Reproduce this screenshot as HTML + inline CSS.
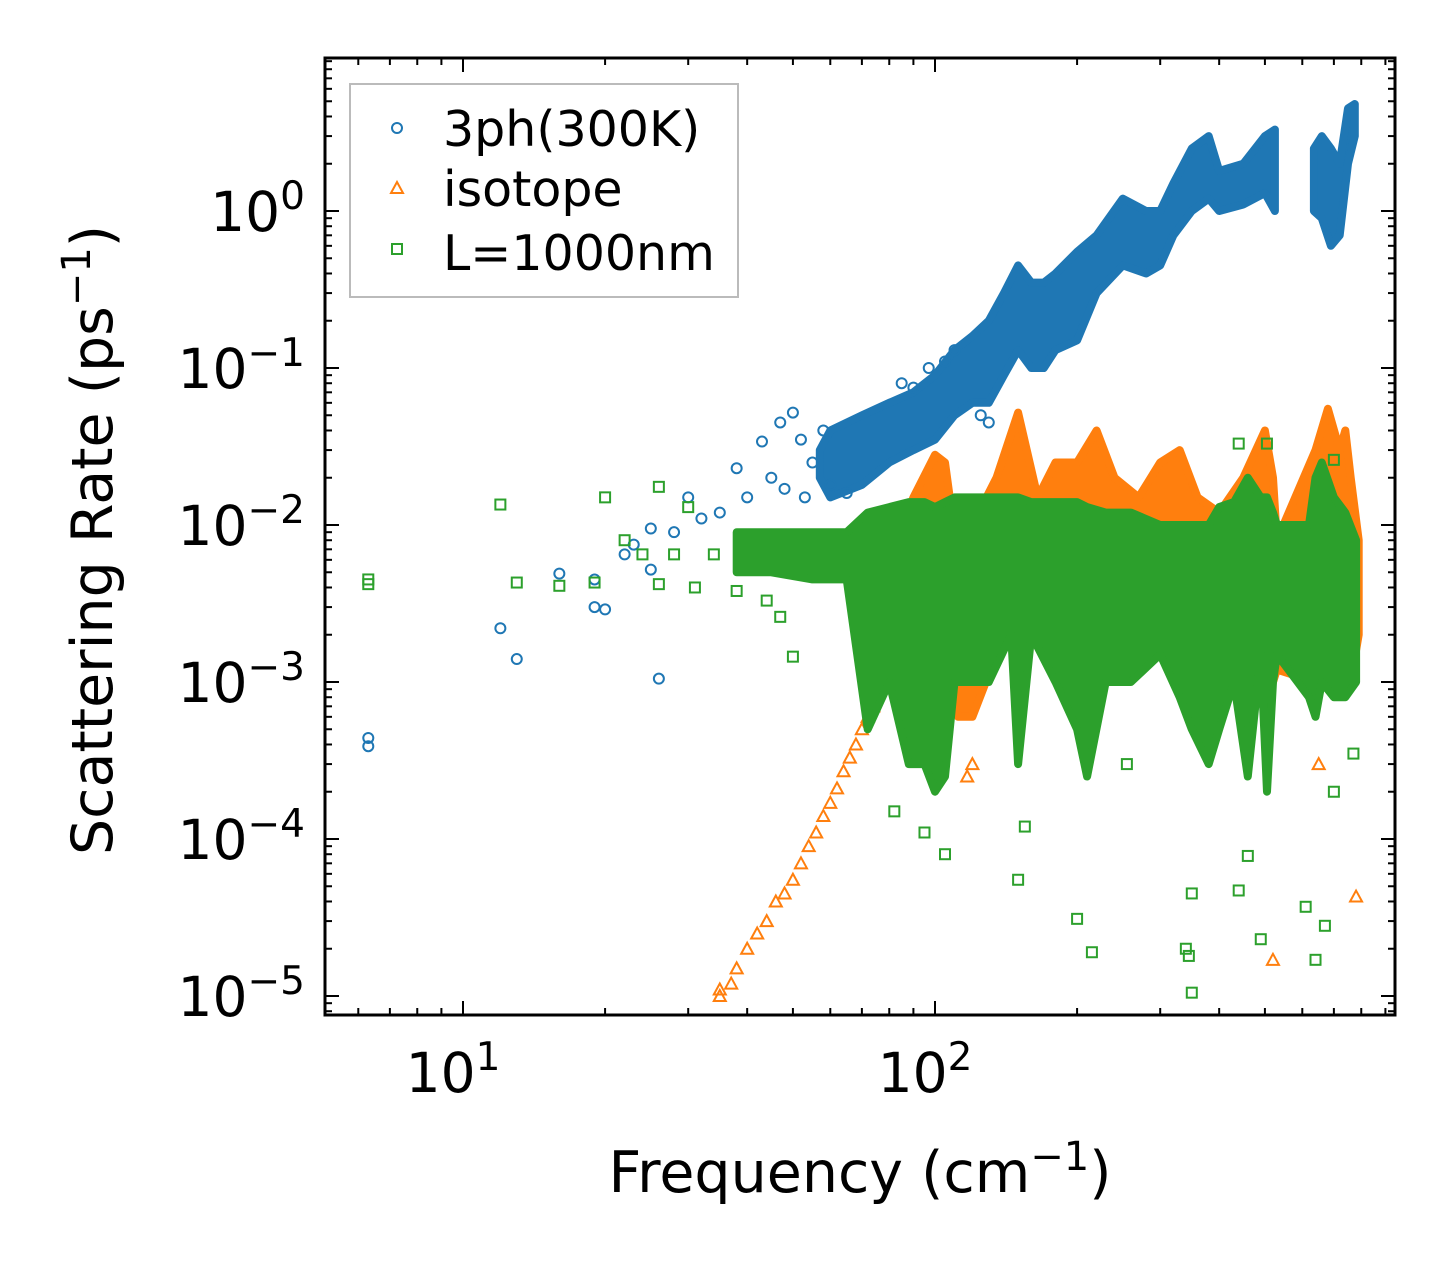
<!DOCTYPE html>
<html><head><meta charset="utf-8"><style>
body{margin:0;background:#fff}
svg{display:block;font-family:"DejaVu Sans","Liberation Sans",sans-serif}
</style></head><body>
<svg id="chart" width="1455" height="1265" viewBox="0 0 1455 1265" xmlns="http://www.w3.org/2000/svg">
<rect width="1455" height="1265" fill="#fff"/>
<defs><clipPath id="clip"><rect x="325" y="58" width="1070" height="957"/></clipPath></defs>
<g id="plot" clip-path="url(#clip)"></g>
<g id="axes"></g>
<text x="860" y="1192" font-size="57" text-anchor="middle">Frequency (cm<tspan dy="-22" font-size="40">−1</tspan><tspan dy="22">)</tspan></text>
<text transform="translate(112,540) rotate(-90)" font-size="57" text-anchor="middle">Scattering Rate (ps<tspan dy="-22" font-size="40">−1</tspan><tspan dy="22">)</tspan></text>
<g>
<rect x="350" y="84" width="388" height="213" fill="#fff" stroke="#bbb" stroke-width="2"/>
<g><circle cx="397" cy="128" r="5" fill="none" stroke="#1f77b4" stroke-width="2"/><text x="443" y="146" font-size="49">3ph(300K)</text></g>
<g><path d="M397,182 L403,193 L391,193 Z" fill="none" stroke="#ff7f0e" stroke-width="2"/><text x="443" y="206" font-size="49">isotope</text></g>
<g><rect x="392" y="244" width="10" height="10" fill="none" stroke="#2ca02c" stroke-width="2"/><text x="443" y="270" font-size="49">L=1000nm</text></g>
</g>
</svg>
<script>
// ---- data ----
const ph3Points = [[6.3,4.4e-4],[6.3,3.9e-4],[12,2.2e-3],[13,1.4e-3],[16,4.9e-3],[19,4.5e-3],[19,3e-3],[20,2.9e-3],[22,6.5e-3],[23,7.5e-3],[25,5.2e-3],[26,1.05e-3],[25,9.5e-3],[28,9e-3],[30,1.5e-2],[32,1.1e-2],[35,1.2e-2],[38,2.3e-2],[40,1.5e-2],[43,3.4e-2],[45,2e-2],[47,4.5e-2],[50,5.2e-2],[52,3.5e-2],[55,2.5e-2],[58,4e-2],[48,1.7e-2],[53,1.5e-2],[60,1.8e-2],[65,1.6e-2],[97,0.1],[105,0.11],[110,0.13],[90,0.075],[85,0.08],[130,0.045],[125,0.05]];
const ph3BandF  = [57,60,70,80,90,100,110,120,130,140,150,160,170,180,200,220,250,280,300,320,350,380,400,450,500,525];
const ph3BandLo = [0.02,0.015,0.018,0.025,0.03,0.035,0.05,0.06,0.06,0.09,0.13,0.1,0.1,0.13,0.15,0.3,0.45,0.4,0.45,0.7,1.0,1.2,1.0,1.1,1.3,1.0];
const ph3BandHi = [0.03,0.04,0.05,0.06,0.07,0.09,0.13,0.16,0.2,0.3,0.45,0.35,0.35,0.4,0.55,0.7,1.2,1.0,1.0,1.5,2.5,3.0,1.8,2.0,3.0,3.3];
const ph3Band2F  = [635,660,690,720,750,775];
const ph3Band2Lo = [1.0,0.9,0.6,0.7,2.0,3.0];
const ph3Band2Hi = [2.5,3.0,2.5,2.0,4.5,4.8];

const isoPoints = [[35,1.1e-5],[35,1e-5],[37,1.2e-5],[38,1.5e-5],[40,2e-5],[42,2.5e-5],[44,3e-5],[46,4e-5],[48,4.5e-5],[50,5.5e-5],[52,7e-5],[54,9e-5],[56,1.1e-4],[58,1.4e-4],[60,1.7e-4],[62,2.1e-4],[64,2.7e-4],[66,3.3e-4],[68,4e-4],[70,5e-4],[72,6e-4],[74,7e-4],[120,3e-4],[117,2.5e-4],[520,1.7e-5],[780,4.3e-5],[650,3e-4]];
const isoBandF  = [72,80,90,100,105,112,120,135,150,165,180,200,220,240,270,300,330,360,400,450,500,520,530,640,680,720,740,760,790];
const isoBandLo = [8e-4,1.5e-3,2e-3,3e-3,1e-3,6e-4,6e-4,1.5e-3,2e-3,2e-3,2e-3,2e-3,2e-3,2e-3,1.5e-3,2e-3,1e-3,1e-3,1e-3,1e-3,1e-3,1e-3,1.2e-3,1e-3,1e-3,1e-3,1e-3,1e-3,2e-3];
const isoBandHi = [3e-3,6e-3,1.5e-2,2.8e-2,2.5e-2,6e-3,1e-2,2e-2,5.2e-2,1.5e-2,2.5e-2,2.5e-2,4e-2,2e-2,1.5e-2,2.5e-2,3e-2,1.5e-2,1.2e-2,2e-2,4e-2,2e-2,8e-3,3e-2,5.5e-2,3e-2,4e-2,2e-2,8e-3];

const bdyPoints = [[6.3,4.5e-3],[6.3,4.2e-3],[12,1.35e-2],[13,4.3e-3],[16,4.1e-3],[19,4.3e-3],[20,1.5e-2],[22,8e-3],[24,6.5e-3],[26,1.75e-2],[26,4.2e-3],[28,6.5e-3],[30,1.3e-2],[31,4e-3],[34,6.5e-3],[38,3.8e-3],[44,3.3e-3],[47,2.6e-3],[50,1.45e-3],[82,1.5e-4],[95,1.1e-4],[105,8e-5],[150,5.5e-5],[155,1.2e-4],[200,3.1e-5],[215,1.9e-5],[255,3e-4],[350,1.05e-5],[345,1.8e-5],[340,2e-5],[350,4.5e-5],[440,4.7e-5],[460,7.8e-5],[490,2.3e-5],[610,3.7e-5],[640,1.7e-5],[670,2.8e-5],[700,2e-4],[770,3.5e-4],[700,2.6e-2],[440,3.3e-2],[505,3.3e-2]];
const bdyBandF  = [38,45,55,65,72,80,88,95,100,105,110,130,145,150,160,180,200,210,230,260,300,330,350,380,400,430,460,490,505,520,530,620,640,660,700,740,780];
const bdyBandLo = [5e-3,5e-3,4.5e-3,4.5e-3,5e-4,1e-3,3e-4,3e-4,2e-4,2.5e-4,1e-3,1e-3,2e-3,3e-4,2e-3,1e-3,5e-4,2.5e-4,1e-3,1e-3,1.5e-3,8e-4,5e-4,3e-4,5e-4,1e-3,2.5e-4,1.5e-3,2e-4,1e-3,1.5e-3,8e-4,6e-4,1e-3,8e-4,8e-4,1e-3];
const bdyBandHi = [9e-3,9e-3,9e-3,9e-3,1.2e-2,1.3e-2,1.4e-2,1.4e-2,1.3e-2,1.4e-2,1.5e-2,1.5e-2,1.5e-2,1.5e-2,1.4e-2,1.4e-2,1.4e-2,1.3e-2,1.2e-2,1.2e-2,1e-2,1e-2,1e-2,1e-2,1.3e-2,1.4e-2,2e-2,1.5e-2,1.5e-2,1.2e-2,1e-2,1e-2,2e-2,2.5e-2,1.5e-2,1.2e-2,8e-3];

const xTickLabels = [["10","1",10],["10","2",100]];
const yTickLabels = [["10","0",1],["10","−1",0.1],["10","−2",0.01],["10","−3",1e-3],["10","−4",1e-4],["10","−5",1e-5]];

// ---- axis functions ----
const X0=325,X1=1395,Y0=58,Y1=1015;
const xs = f => 463 + 472*(Math.log10(f)-1);
const ys = v => 211 - 157*Math.log10(v);
const NS="http://www.w3.org/2000/svg";
const plot=document.getElementById('plot'), axes=document.getElementById('axes');
function mk(tag,attrs,parent){const e=document.createElementNS(NS,tag);for(const k in attrs)e.setAttribute(k,attrs[k]);parent.appendChild(e);return e;}

function band(F,Lo,Hi,color,name){
  let d="M"+F.map((f,i)=>xs(f).toFixed(1)+","+ys(Hi[i]).toFixed(1)).join(" L");
  for(let i=F.length-1;i>=0;i--) d+=" L"+xs(F[i]).toFixed(1)+","+ys(Lo[i]).toFixed(1);
  const p=mk('path',{d:d+" Z",fill:color,stroke:color,'stroke-width':8,'stroke-linejoin':'round'},plot);
  
  
}
function marker(kind,f,v,color){
  const x=xs(f),y=ys(v);let e;
  if(kind==='c') e=mk('circle',{cx:x,cy:y,r:5,fill:'none',stroke:color,'stroke-width':2},plot);
  else if(kind==='t') e=mk('path',{d:`M${x},${y-6} L${x+6},${y+5} L${x-6},${y+5} Z`,fill:'none',stroke:color,'stroke-width':2},plot);
  else e=mk('rect',{x:x-5,y:y-5,width:10,height:10,fill:'none',stroke:color,'stroke-width':2},plot);
  
  
}
const B='#1f77b4',O='#ff7f0e',G='#2ca02c';
band(ph3BandF,ph3BandLo,ph3BandHi,B,'3ph-band');
band(ph3Band2F,ph3Band2Lo,ph3Band2Hi,B,'3ph-band-high');
ph3Points.forEach(p=>marker('c',p[0],p[1],B));
band(isoBandF,isoBandLo,isoBandHi,O,'isotope-band');
isoPoints.forEach(p=>marker('t',p[0],p[1],O));
band(bdyBandF,bdyBandLo,bdyBandHi,G,'boundary-band');
bdyPoints.forEach(p=>marker('s',p[0],p[1],G));

// ---- axes ----
const frame=mk('rect',{x:X0,y:Y0,width:X1-X0,height:Y1-Y0,fill:'none',stroke:'#000','stroke-width':3},axes);


for(let dec=1;dec<=100;dec*=10){for(let m=1;m<=9;m++){const f=dec*m;const x=xs(f);if(x<X0||x>X1)continue;const L=m===1?14:7;
  mk('line',{x1:x,y1:Y1,x2:x,y2:Y1-L,stroke:'#000','stroke-width':2},axes);
  mk('line',{x1:x,y1:Y0,x2:x,y2:Y0+L,stroke:'#000','stroke-width':2},axes);}}
for(let e=-6;e<=1;e++){for(let m=1;m<=9;m++){const v=m*Math.pow(10,e);const y=ys(v);if(y<Y0||y>Y1)continue;const L=m===1?14:7;
  mk('line',{x1:X0,y1:y,x2:X0+L,y2:y,stroke:'#000','stroke-width':2},axes);
  mk('line',{x1:X1,y1:y,x2:X1-L,y2:y,stroke:'#000','stroke-width':2},axes);}}
xTickLabels.forEach(t=>{const tx=mk('text',{x:xs(t[2])-10,y:1092,'font-size':55,'text-anchor':'middle'},axes);
  
  
  tx.textContent=t[0];const s=mk('tspan',{dy:-22,'font-size':39},tx);s.textContent=t[1];});
yTickLabels.forEach(t=>{const tx=mk('text',{x:305,y:ys(t[2])+20,'font-size':55,'text-anchor':'end'},axes);
  
  
  tx.textContent=t[0];const s=mk('tspan',{dy:-22,'font-size':39},tx);s.textContent=t[1];});
</script>
</body></html>
